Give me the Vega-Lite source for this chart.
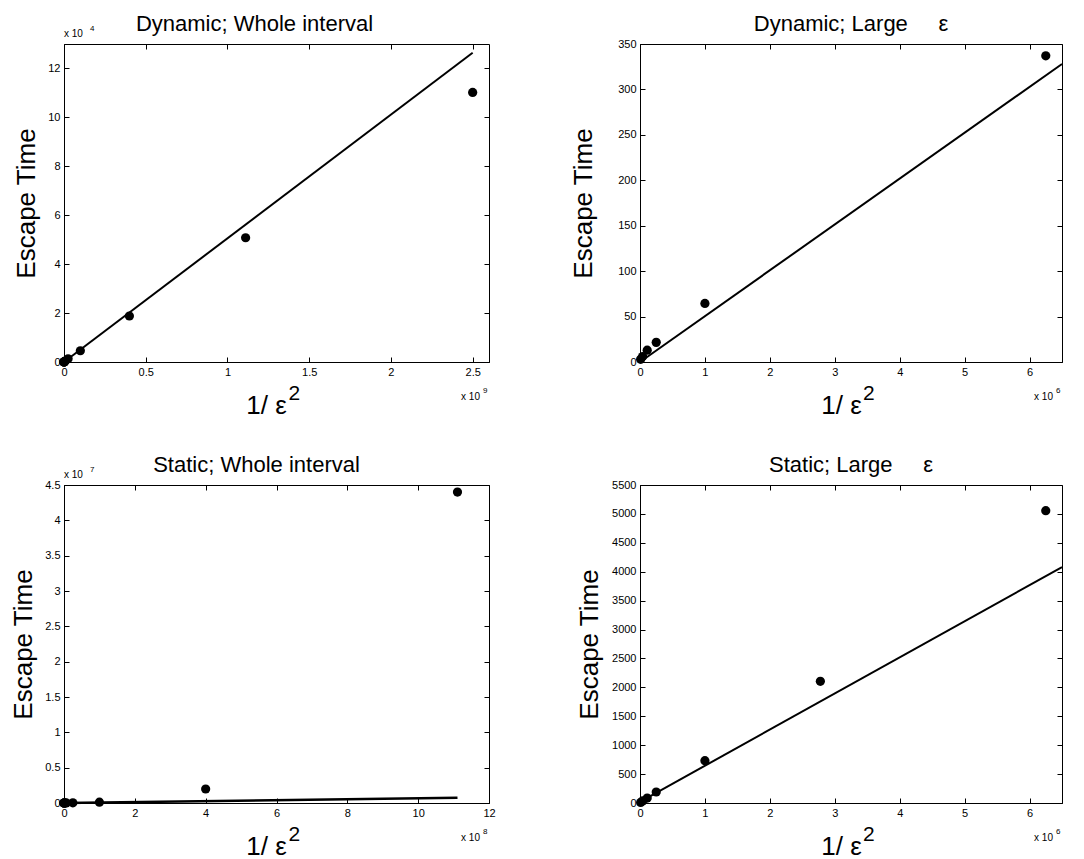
{
  "$schema": "https://vega.github.io/schema/vega-lite/v6.json",
  "background": "white",
  "padding": {"left": 10, "top": 12, "right": 5, "bottom": 0},
  "datasets": {
    "dw_pts": [{"x": 10000, "y": 3}, {"x": 40000, "y": 6}, {"x": 111111, "y": 13}, {"x": 250000, "y": 21.6}, {"x": 1000000, "y": 64.5}, {"x": 6250000, "y": 337}, {"x": 25000000, "y": 1300}, {"x": 100000000, "y": 4600}, {"x": 400000000, "y": 18800}, {"x": 1111000000, "y": 50800}, {"x": 2500000000, "y": 110200}],
    "dw_fit": [{"x": 0, "y": 0}, {"x": 2500000000, "y": 126400}],
    "dl_pts": [{"x": 10000, "y": 3}, {"x": 40000, "y": 6}, {"x": 111111, "y": 13}, {"x": 250000, "y": 21.6}, {"x": 1000000, "y": 64.5}, {"x": 6250000, "y": 337}],
    "dl_fit": [{"x": 0, "y": 0}, {"x": 6500000, "y": 328}],
    "sw_pts": [{"x": 10000, "y": 10}, {"x": 40000, "y": 35}, {"x": 111111, "y": 86}, {"x": 250000, "y": 190}, {"x": 1000000, "y": 732}, {"x": 2778000, "y": 2104}, {"x": 6250000, "y": 5056}, {"x": 25000000, "y": 20000}, {"x": 100000000, "y": 120000}, {"x": 400000000, "y": 1980000}, {"x": 1111000000, "y": 44000000}],
    "sw_fit": [{"x": 0, "y": 0}, {"x": 1111000000, "y": 750000}],
    "sl_pts": [{"x": 10000, "y": 10}, {"x": 40000, "y": 35}, {"x": 111111, "y": 86}, {"x": 250000, "y": 190}, {"x": 1000000, "y": 732}, {"x": 2778000, "y": 2104}, {"x": 6250000, "y": 5056}],
    "sl_fit": [{"x": 0, "y": 20}, {"x": 6500000, "y": 4080}],
    "m_dw": [{"t": "x 10", "xe": "9", "ye": "4", "sq": "2"}],
    "m_dl": [{"t": "x 10", "xe": "6", "sq": "2"}],
    "m_sw": [{"t": "x 10", "xe": "8", "ye": "7", "sq": "2"}],
    "m_sl": [{"t": "x 10", "xe": "6", "sq": "2"}]
  },
  "config": {
    "font": "Liberation Sans",
    "view": {"stroke": "black", "strokeWidth": 1},
    "axis": {
      "labelFont": "Liberation Sans", "labelFontSize": 11, "labelColor": "black",
      "titleFont": "Liberation Sans", "titleFontSize": 26, "titleFontWeight": "normal", "titleColor": "black",
      "domainColor": "black", "tickColor": "black", "tickSize": -5, "grid": false,
      "labelPadding": 9, "labelOverlap": false, "labelFlush": false
    },
    "title": {"font": "Liberation Sans", "fontSize": 22, "fontWeight": "normal", "color": "black"}
  },
  "spacing": 34,
  "vconcat": [
    {
      "hconcat": [
        {
          "width": 425, "height": 318,
          "title": {"text": "Dynamic; Whole interval", "dx": -22, "offset": -11},
          "layer": [
            {"data": {"name": "dw_pts"}, "mark": {"type": "circle", "size": 85, "color": "black", "opacity": 1},
             "encoding": {
               "x": {"field": "x", "type": "quantitative", "scale": {"domain": [0, 2600000000], "nice": false}, "axis": {"orient": "bottom", "values": [0, 500000000, 1000000000, 1500000000, 2000000000, 2500000000], "labelExpr": "datum.value / 1e9", "title": "1/ ε", "titlePadding": 15, "titleX": 202}},
               "y": {"field": "y", "type": "quantitative", "scale": {"domain": [0, 130000], "nice": false}, "axis": {"orient": "left", "values": [0, 20000, 40000, 60000, 80000, 100000, 120000], "labelExpr": "datum.value / 1e4", "title": "Escape Time", "titlePadding": 8}}}},
            {"data": {"name": "dw_fit"}, "mark": {"type": "line", "color": "black", "strokeWidth": 2},
             "encoding": {
               "x": {"field": "x", "type": "quantitative", "axis": {"orient": "top", "values": [0, 500000000, 1000000000, 1500000000, 2000000000, 2500000000], "labels": false, "title": null, "domain": false}},
               "y": {"field": "y", "type": "quantitative", "axis": {"orient": "right", "values": [0, 20000, 40000, 60000, 80000, 100000, 120000], "labels": false, "title": null, "domain": false}}}},
            {"data": {"name": "m_dw"}, "mark": {"type": "text", "align": "left", "baseline": "alphabetic", "fontSize": 10, "dy": -7, "color": "black"},
             "encoding": {"text": {"field": "t"}, "x": {"datum": 0, "type": "quantitative", "axis": null}, "y": {"datum": 130000, "type": "quantitative", "axis": null}}},
            {"data": {"name": "m_dw"}, "mark": {"type": "text", "align": "left", "baseline": "alphabetic", "fontSize": 8, "dy": -13, "dx": 26, "color": "black"},
             "encoding": {"text": {"field": "ye"}, "x": {"datum": 0, "type": "quantitative", "axis": null}, "y": {"datum": 130000, "type": "quantitative", "axis": null}}},
            {"data": {"name": "m_dw"}, "mark": {"type": "text", "align": "right", "baseline": "alphabetic", "fontSize": 10, "dy": 38, "dx": -9, "color": "black"},
             "encoding": {"text": {"field": "t"}, "x": {"datum": 2600000000, "type": "quantitative", "axis": null}, "y": {"datum": 0, "type": "quantitative", "axis": null}}},
            {"data": {"name": "m_dw"}, "mark": {"type": "text", "align": "left", "baseline": "alphabetic", "fontSize": 8, "dy": 31, "dx": -6, "color": "black"},
             "encoding": {"text": {"field": "xe"}, "x": {"datum": 2600000000, "type": "quantitative", "axis": null}, "y": {"datum": 0, "type": "quantitative", "axis": null}}},
            {"data": {"name": "m_dw"}, "mark": {"type": "text", "align": "left", "baseline": "alphabetic", "fontSize": 21, "dy": 38, "dx": 12, "color": "black"},
             "encoding": {"text": {"field": "sq"}, "x": {"datum": 1300000000, "type": "quantitative", "axis": null}, "y": {"datum": 0, "type": "quantitative", "axis": null}}}
          ],
          "resolve": {"axis": {"x": "independent", "y": "independent"}}
        },
        {
          "width": 422, "height": 318,
          "title": {"text": "Dynamic; Large\u00a0\u00a0\u00a0\u00a0\u00a0ε", "offset": 2},
          "layer": [
            {"data": {"name": "dl_pts"}, "mark": {"type": "circle", "size": 85, "color": "black", "opacity": 1},
             "encoding": {
               "x": {"field": "x", "type": "quantitative", "scale": {"domain": [0, 6500000], "nice": false}, "axis": {"orient": "bottom", "values": [0, 1000000, 2000000, 3000000, 4000000, 5000000, 6000000], "labelExpr": "datum.value / 1e6", "title": "1/ ε", "titlePadding": 15, "titleX": 201}},
               "y": {"field": "y", "type": "quantitative", "scale": {"domain": [0, 350], "nice": false}, "axis": {"orient": "left", "values": [0, 50, 100, 150, 200, 250, 300, 350], "title": "Escape Time", "titlePadding": 21}}}},
            {"data": {"name": "dl_fit"}, "mark": {"type": "line", "color": "black", "strokeWidth": 2},
             "encoding": {
               "x": {"field": "x", "type": "quantitative", "axis": {"orient": "top", "values": [0, 1000000, 2000000, 3000000, 4000000, 5000000, 6000000], "labels": false, "title": null, "domain": false}},
               "y": {"field": "y", "type": "quantitative", "axis": {"orient": "right", "values": [0, 50, 100, 150, 200, 250, 300, 350], "labels": false, "title": null, "domain": false}}}},
            {"data": {"name": "m_dl"}, "mark": {"type": "text", "align": "right", "baseline": "alphabetic", "fontSize": 10, "dy": 38, "dx": -9, "color": "black"},
             "encoding": {"text": {"field": "t"}, "x": {"datum": 6500000, "type": "quantitative", "axis": null}, "y": {"datum": 0, "type": "quantitative", "axis": null}}},
            {"data": {"name": "m_dl"}, "mark": {"type": "text", "align": "left", "baseline": "alphabetic", "fontSize": 8, "dy": 31, "dx": -6, "color": "black"},
             "encoding": {"text": {"field": "xe"}, "x": {"datum": 6500000, "type": "quantitative", "axis": null}, "y": {"datum": 0, "type": "quantitative", "axis": null}}},
            {"data": {"name": "m_dl"}, "mark": {"type": "text", "align": "left", "baseline": "alphabetic", "fontSize": 21, "dy": 38, "dx": 12, "color": "black"},
             "encoding": {"text": {"field": "sq"}, "x": {"datum": 3250000, "type": "quantitative", "axis": null}, "y": {"datum": 0, "type": "quantitative", "axis": null}}}
          ],
          "resolve": {"axis": {"x": "independent", "y": "independent"}}
        }
      ],
      "spacing": 80
    },
    {
      "hconcat": [
        {
          "width": 425, "height": 318,
          "title": {"text": "Static; Whole interval", "dx": -20, "offset": -11},
          "layer": [
            {"data": {"name": "sw_pts"}, "mark": {"type": "circle", "size": 85, "color": "black", "opacity": 1},
             "encoding": {
               "x": {"field": "x", "type": "quantitative", "scale": {"domain": [0, 1200000000], "nice": false}, "axis": {"orient": "bottom", "values": [0, 200000000, 400000000, 600000000, 800000000, 1000000000, 1200000000], "labelExpr": "datum.value / 1e8", "title": "1/ ε", "titlePadding": 15, "titleX": 202}},
               "y": {"field": "y", "type": "quantitative", "scale": {"domain": [0, 45000000], "nice": false}, "axis": {"orient": "left", "values": [0, 5000000, 10000000, 15000000, 20000000, 25000000, 30000000, 35000000, 40000000, 45000000], "labelExpr": "datum.value / 1e7", "title": "Escape Time", "titlePadding": 8}}}},
            {"data": {"name": "sw_fit"}, "mark": {"type": "line", "color": "black", "strokeWidth": 2.5},
             "encoding": {
               "x": {"field": "x", "type": "quantitative", "axis": {"orient": "top", "values": [0, 200000000, 400000000, 600000000, 800000000, 1000000000, 1200000000], "labels": false, "title": null, "domain": false}},
               "y": {"field": "y", "type": "quantitative", "axis": {"orient": "right", "values": [0, 5000000, 10000000, 15000000, 20000000, 25000000, 30000000, 35000000, 40000000, 45000000], "labels": false, "title": null, "domain": false}}}},
            {"data": {"name": "m_sw"}, "mark": {"type": "text", "align": "left", "baseline": "alphabetic", "fontSize": 10, "dy": -7, "color": "black"},
             "encoding": {"text": {"field": "t"}, "x": {"datum": 0, "type": "quantitative", "axis": null}, "y": {"datum": 45000000, "type": "quantitative", "axis": null}}},
            {"data": {"name": "m_sw"}, "mark": {"type": "text", "align": "left", "baseline": "alphabetic", "fontSize": 8, "dy": -13, "dx": 26, "color": "black"},
             "encoding": {"text": {"field": "ye"}, "x": {"datum": 0, "type": "quantitative", "axis": null}, "y": {"datum": 45000000, "type": "quantitative", "axis": null}}},
            {"data": {"name": "m_sw"}, "mark": {"type": "text", "align": "right", "baseline": "alphabetic", "fontSize": 10, "dy": 38, "dx": -9, "color": "black"},
             "encoding": {"text": {"field": "t"}, "x": {"datum": 1200000000, "type": "quantitative", "axis": null}, "y": {"datum": 0, "type": "quantitative", "axis": null}}},
            {"data": {"name": "m_sw"}, "mark": {"type": "text", "align": "left", "baseline": "alphabetic", "fontSize": 8, "dy": 31, "dx": -6, "color": "black"},
             "encoding": {"text": {"field": "xe"}, "x": {"datum": 1200000000, "type": "quantitative", "axis": null}, "y": {"datum": 0, "type": "quantitative", "axis": null}}},
            {"data": {"name": "m_sw"}, "mark": {"type": "text", "align": "left", "baseline": "alphabetic", "fontSize": 21, "dy": 38, "dx": 12, "color": "black"},
             "encoding": {"text": {"field": "sq"}, "x": {"datum": 600000000, "type": "quantitative", "axis": null}, "y": {"datum": 0, "type": "quantitative", "axis": null}}}
          ],
          "resolve": {"axis": {"x": "independent", "y": "independent"}}
        },
        {
          "width": 422, "height": 318,
          "title": {"text": "Static; Large\u00a0\u00a0\u00a0\u00a0\u00a0ε", "offset": 2},
          "layer": [
            {"data": {"name": "sl_pts"}, "mark": {"type": "circle", "size": 85, "color": "black", "opacity": 1},
             "encoding": {
               "x": {"field": "x", "type": "quantitative", "scale": {"domain": [0, 6500000], "nice": false}, "axis": {"orient": "bottom", "values": [0, 1000000, 2000000, 3000000, 4000000, 5000000, 6000000], "labelExpr": "datum.value / 1e6", "title": "1/ ε", "titlePadding": 15, "titleX": 201}},
               "y": {"field": "y", "type": "quantitative", "scale": {"domain": [0, 5500], "nice": false}, "axis": {"orient": "left", "values": [0, 500, 1000, 1500, 2000, 2500, 3000, 3500, 4000, 4500, 5000, 5500], "format": "d", "title": "Escape Time", "titlePadding": 9}}}},
            {"data": {"name": "sl_fit"}, "mark": {"type": "line", "color": "black", "strokeWidth": 2},
             "encoding": {
               "x": {"field": "x", "type": "quantitative", "axis": {"orient": "top", "values": [0, 1000000, 2000000, 3000000, 4000000, 5000000, 6000000], "labels": false, "title": null, "domain": false}},
               "y": {"field": "y", "type": "quantitative", "axis": {"orient": "right", "values": [0, 500, 1000, 1500, 2000, 2500, 3000, 3500, 4000, 4500, 5000, 5500], "labels": false, "title": null, "domain": false}}}},
            {"data": {"name": "m_sl"}, "mark": {"type": "text", "align": "right", "baseline": "alphabetic", "fontSize": 10, "dy": 38, "dx": -9, "color": "black"},
             "encoding": {"text": {"field": "t"}, "x": {"datum": 6500000, "type": "quantitative", "axis": null}, "y": {"datum": 0, "type": "quantitative", "axis": null}}},
            {"data": {"name": "m_sl"}, "mark": {"type": "text", "align": "left", "baseline": "alphabetic", "fontSize": 8, "dy": 31, "dx": -6, "color": "black"},
             "encoding": {"text": {"field": "xe"}, "x": {"datum": 6500000, "type": "quantitative", "axis": null}, "y": {"datum": 0, "type": "quantitative", "axis": null}}},
            {"data": {"name": "m_sl"}, "mark": {"type": "text", "align": "left", "baseline": "alphabetic", "fontSize": 21, "dy": 38, "dx": 12, "color": "black"},
             "encoding": {"text": {"field": "sq"}, "x": {"datum": 3250000, "type": "quantitative", "axis": null}, "y": {"datum": 0, "type": "quantitative", "axis": null}}}
          ],
          "resolve": {"axis": {"x": "independent", "y": "independent"}}
        }
      ],
      "spacing": 80
    }
  ]
}
